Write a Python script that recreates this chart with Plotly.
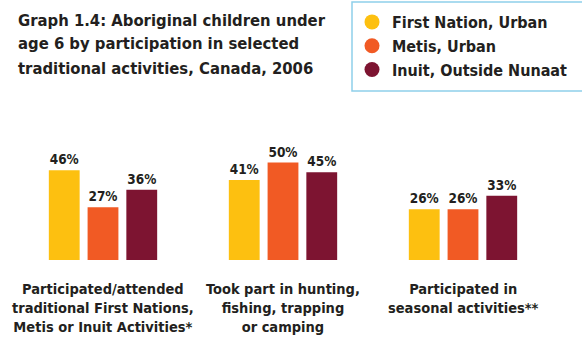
import plotly.graph_objects as go

categories = [
    "Participated/attended<br>traditional First Nations,<br>Metis or Inuit Activities*",
    "Took part in hunting,<br>fishing, trapping<br>or camping",
    "Participated in<br>seasonal activities**",
]
series_names = ["First Nation, Urban", "Metis, Urban", "Inuit, Outside Nunaat"]
first_nation = [46, 41, 26]
metis = [27, 50, 26]
inuit = [36, 45, 33]
values = [first_nation, metis, inuit]
colors = ["#FDC010", "#F15A24", "#7D1431"]
title_lines = [
    "Graph 1.4: Aboriginal children under",
    "age 6 by participation in selected",
    "traditional activities, Canada, 2006",
]

FONT = "DejaVu Sans Condensed, Liberation Sans Narrow, Arial Narrow, sans-serif"
TXT = "#231f20"
keys = ["c0", "c1", "c2"]

W, H = 582, 339
ML, MR, MT, MB = 10, 29, 143, 79
PW, PH = W - ML - MR, H - MT - MB


def px_to_paper(px, py):
    return (px - ML) / PW, (H - MB - py) / PH


fig = go.Figure()
for name, vals, col in zip(series_names, values, colors):
    fig.add_trace(go.Bar(
        x=keys, y=vals, name=name, marker=dict(color=col, line=dict(width=0)),
        text=[f"<b>{v}%</b>" for v in vals], textposition="outside",
        textfont=dict(family=FONT, size=13.5, color=TXT),
        constraintext="none", cliponaxis=False, showlegend=False,
    ))
for name, col in zip(series_names, colors):
    fig.add_trace(go.Scatter(
        x=[None], y=[None], mode="markers", name="<b>" + name + "</b>",
        marker=dict(color=col, size=15, symbol="circle"),
    ))

for k, lab in zip(keys, categories):
    fig.add_annotation(
        x=k, y=0, xref="x", yref="y", text="<b>" + lab + "</b>",
        showarrow=False, yanchor="top", yshift=-19, align="center",
        font=dict(family=FONT, size=14.5, color=TXT),
    )

for i, line in enumerate(title_lines):
    tx, ty = px_to_paper(18, 20 + 24 * i)
    fig.add_annotation(
        x=tx, y=ty, xref="paper", yref="paper", text="<b>" + line + "</b>",
        showarrow=False, xanchor="left", yanchor="middle", align="left",
        xshift=-2, font=dict(family=FONT, size=16.5, color=TXT),
    )

# legend frame
x0, y0 = px_to_paper(352, 2)
x1, y1 = px_to_paper(592, 91)
fig.add_shape(type="rect", xref="paper", yref="paper", x0=x0, y0=y0, x1=x1, y1=y1,
              line=dict(color="#8fcfea", width=1.5), fillcolor="rgba(0,0,0,0)", layer="above")

fig.update_layout(
    width=W, height=H,
    margin=dict(l=ML, r=MR, t=MT, b=MB, autoexpand=False),
    paper_bgcolor="white", plot_bgcolor="white",
    barmode="group", bargap=0.354, bargroupgap=0.205,
    legend=dict(
        xref="container", yref="container", x=352 / W, y=1 - 5 / H,
        xanchor="left", yanchor="top",
        borderwidth=0, bgcolor="rgba(0,0,0,0)",
        font=dict(family=FONT, size=16, color=TXT),
        itemsizing="trace", tracegroupgap=0,
    ),
    xaxis=dict(showticklabels=False, showgrid=False, zeroline=False, showline=False, ticks=""),
    yaxis=dict(range=[0, 60], visible=False),
    font=dict(family=FONT, color=TXT),
)

fig.write_html("out.html")
